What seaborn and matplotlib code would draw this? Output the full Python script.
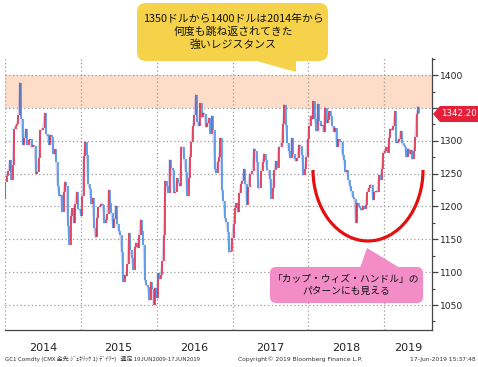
import numpy as np
import pandas as pd
import matplotlib
matplotlib.use('Agg')
import matplotlib.pyplot as plt
import matplotlib.dates as mdates
import matplotlib.transforms as mtransforms
from matplotlib.patches import FancyBboxPatch, Polygon, Arc
from matplotlib.ticker import MultipleLocator, FixedFormatter
import seaborn as sns

# weekly closes (Friday), gold futures
prev_close = 1212
close_2014 = [1238, 1247, 1254, 1270, 1240,
              1263, 1318, 1323, 1326,
              1339, 1388, 1333, 1294,
              1304, 1318, 1294, 1301,
              1302, 1290, 1293, 1292, 1250,
              1252, 1274, 1316, 1316,
              1320, 1342, 1310, 1307,
              1294, 1309, 1305, 1280, 1287,
              1268, 1231, 1216, 1218,
              1192, 1222, 1238, 1231, 1171,
              1142, 1185, 1197, 1175,
              1204, 1222, 1196, 1195]
close_2015 = [1186, 1216, 1277, 1298, 1279,
              1234, 1227, 1204, 1213,
              1168, 1153, 1182, 1199,
              1201, 1204, 1203, 1175,
              1179, 1189, 1225, 1205, 1190,
              1168, 1181, 1201, 1173,
              1163, 1157, 1131, 1085, 1095,
              1094, 1113, 1159, 1134,
              1121, 1104, 1138, 1145,
              1137, 1156, 1180, 1163, 1142,
              1088, 1081, 1077, 1057,
              1085, 1075, 1050, 1076]
close_2016 = [1061, 1098, 1089, 1096, 1117,
              1157, 1239, 1231, 1221,
              1271, 1259, 1255, 1221,
              1222, 1243, 1235, 1231, 1291,
              1290, 1273, 1253, 1216,
              1243, 1275, 1298, 1322,
              1340, 1370, 1328, 1322, 1357,
              1336, 1343, 1341, 1321,
              1327, 1334, 1310, 1338, 1316,
              1257, 1251, 1267, 1275,
              1304, 1225, 1208, 1183,
              1177, 1161, 1130, 1133, 1152]
close_2017 = [1173, 1197, 1205, 1191,
              1220, 1234, 1239, 1257,
              1234, 1203, 1230, 1249, 1249,
              1254, 1288, 1285, 1268,
              1228, 1228, 1254, 1267,
              1280, 1271, 1255, 1256, 1242,
              1212, 1228, 1255, 1269,
              1258, 1290, 1291, 1297,
              1325, 1355, 1324, 1297, 1284,
              1274, 1304, 1280, 1272,
              1269, 1274, 1294, 1292,
              1279, 1248, 1257, 1275, 1303]
close_2018 = [1322, 1338, 1333, 1360,
              1333, 1315, 1356, 1330,
              1323, 1324, 1313, 1350, 1327,
              1332, 1345, 1337, 1323,
              1314, 1320, 1291, 1302,
              1299, 1298, 1278, 1270, 1252,
              1255, 1241, 1231, 1223,
              1214, 1212, 1175, 1206, 1201,
              1198, 1194, 1201, 1196,
              1203, 1222, 1228, 1233,
              1233, 1210, 1222, 1223, 1222,
              1248, 1241, 1257, 1282]
close_2019 = [1285, 1290, 1282, 1304,
              1318, 1316, 1322, 1345,
              1297, 1299, 1303, 1315, 1296,
              1293, 1290, 1275, 1288,
              1280, 1286, 1272, 1284, 1305,
              1341, 1352]
last_date = '2019-06-17'
last_close = 1342.20

y_ticks = [1050, 1100, 1150, 1200, 1250, 1300, 1350, 1400]
years = ['2014', '2015', '2016', '2017', '2018', '2019']
resist_lo, resist_hi = 1350, 1400

closes = close_2014 + close_2015 + close_2016 + close_2017 + close_2018 + close_2019 + [last_close]
dates = list(pd.date_range('2014-01-03', periods=len(closes) - 1, freq='W-FRI')) + [pd.Timestamp(last_date)]
df = pd.DataFrame({'date': dates, 'close': closes})
df['open'] = [prev_close] + closes[:-1]
up = df['close'] >= df['open']

sns.set_style('white')
plt.rcParams['font.family'] = ['Noto Sans CJK JP', 'DejaVu Sans']

W, H = 478, 367
fig = plt.figure(figsize=(W / 100, H / 100), dpi=100)
ax = fig.add_axes([5 / W, 1 - 330 / H, 427 / W, 272 / H])
px = mtransforms.Affine2D().scale(1 / 100) + fig.dpi_scale_trans


def P(x, y):
    return (x, H - y)


ax.axhspan(resist_lo, resist_hi, color='#FDDCC8', lw=0, zorder=0)

red, blue = '#E5203A', '#3C8FE8'
sns.lineplot(data=df, x='date', y='close', ax=ax, color='#A98FD6', lw=1.4, alpha=0.45, zorder=2)
ax.vlines(df['date'], df['open'], df['close'],
          colors=np.where(up, red, blue), lw=1.1, zorder=3)

ax.set_xlim(pd.Timestamp('2014-01-01'), pd.Timestamp('2019-08-20'))
ax.set_ylim(1012, 1426)
ax.set_xlabel('')
ax.set_ylabel('')

# axes, ticks, grid
for s in ['top', 'left']:
    ax.spines[s].set_visible(False)
for s in ['right', 'bottom']:
    ax.spines[s].set_color('#444444')
    ax.spines[s].set_linewidth(0.9)
ax.yaxis.tick_right()
ax.set_yticks(y_ticks)
# the 1350 label sits under the last-price tag
ax.yaxis.set_major_formatter(FixedFormatter([str(v) if v != 1350 else '' for v in y_ticks]))
ax.yaxis.set_minor_locator(MultipleLocator(25))
ax.tick_params(axis='y', which='major', direction='out', length=4, width=0.9,
               color='#444444', pad=1.5, labelsize=6.6, labelcolor='#222222')
ax.tick_params(axis='y', which='minor', direction='out', length=2.5, width=0.8, color='#444444')
for lab in ax.get_yticklabels():
    lab.set_family(['Liberation Sans Narrow', 'DejaVu Sans'])

ax.xaxis.set_major_locator(mdates.YearLocator())
ax.xaxis.set_minor_locator(mdates.MonthLocator(bymonth=[4, 7, 10]))
ax.tick_params(axis='x', which='major', direction='out', length=22, width=0.9,
               color='#9a9a9a', labelbottom=False)
ax.tick_params(axis='x', which='minor', direction='out', length=2.5, width=0.8, color='#444444')
ax.grid(True, which='major', ls=(0, (1, 2)), color='#9a9a9a', lw=0.9)

for i, yr in enumerate(years):
    x0 = pd.Timestamp(f'{yr}-01-01')
    x1 = min(pd.Timestamp(f'{int(yr) + 1}-01-01'), pd.Timestamp('2019-08-20'))
    xm = x0 + (x1 - x0) / 2
    ax.text(xm, -0.068, yr, transform=ax.get_xaxis_transform(), ha='center', va='center',
            fontsize=8, family=['DejaVu Sans'], color='#222222')

# footer
fig.text(5 / W, 1 - 359 / H, 'GC1 Comdty (CMX 金先 ｼﾞｪﾈﾘｯｸ 1) ﾃﾞｲﾘｰ)   週足 19JUN2009-17JUN2019',
         fontsize=4.3, va='center', ha='left', color='#333333')
fig.text(300 / W, 1 - 359 / H, 'Copyright© 2019 Bloomberg Finance L.P.',
         fontsize=4.3, va='center', ha='center', color='#333333', family=['DejaVu Sans'])
fig.text(476 / W, 1 - 359 / H, '17-Jun-2019 15:37:48',
         fontsize=4.3, va='center', ha='right', color='#333333', family=['DejaVu Sans'])

# last price tag
tag = Polygon([P(433, 114), P(440, 106), P(478, 106), P(478, 122), P(440, 122)],
              closed=True, fc=red, ec='none', transform=px, zorder=5)
fig.add_artist(tag)
fig.text(458.5 / W, 1 - 114 / H, f'{last_close:.2f}', fontsize=6.2, color='white',
         ha='center', va='center', family=['Liberation Sans Narrow', 'DejaVu Sans'], zorder=6)

# yellow callout
yellow = '#F5D24A'
fig.add_artist(FancyBboxPatch(P(137, 61), 191, 58, boxstyle='round,pad=0,rounding_size=9',
                              fc=yellow, ec='none', transform=px, zorder=5))
fig.add_artist(Polygon([P(253, 60), P(296, 60), P(296, 72)], closed=True,
                       fc=yellow, ec='none', transform=px, zorder=5))
fig.text(233 / W, 1 - 32 / H, '1350ドルから1400ドルは2014年から\n何度も跳ね返されてきた\n強いレジスタンス',
         fontsize=7.8, ha='center', va='center', linespacing=1.3, color='#111111', zorder=6)

# cup arc
fig.add_artist(Arc((368, H - 170), 110, 142, theta1=180, theta2=360,
                   color='#E31010', lw=2.3, transform=px, zorder=5))

# pink callout
pink = '#F38DC8'
fig.add_artist(FancyBboxPatch(P(270, 303), 153, 36, boxstyle='round,pad=0,rounding_size=6',
                              fc=pink, ec='none', transform=px, zorder=5))
fig.add_artist(Polygon([P(360, 268), P(367, 248), P(400, 268)], closed=True,
                       fc=pink, ec='none', transform=px, zorder=5))
fig.text(346 / W, 1 - 285 / H, '「カップ・ウィズ・ハンドル」の\nパターンにも見える',
         fontsize=7, ha='center', va='center', linespacing=1.2, color='#111111', zorder=6)

fig.savefig('out.png', dpi=100)
